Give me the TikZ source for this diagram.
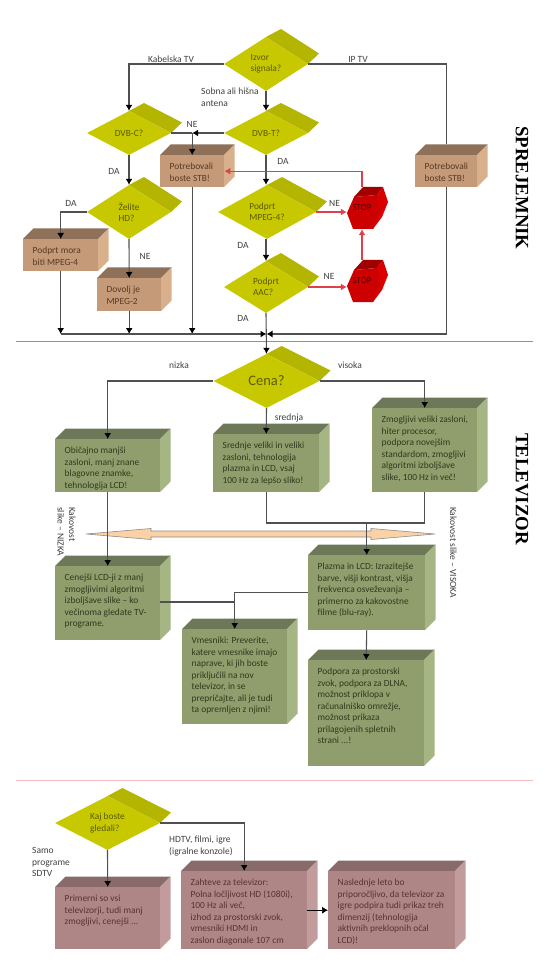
\documentclass[tikz,border=0pt]{standalone}
\usepackage{fontspec}
\setmainfont{Carlito}
\newfontfamily\titlefont{Liberation Serif}
\usetikzlibrary{calc,arrows.meta,positioning,shapes.geometric}
\definecolor{oliveF}{HTML}{C8C800}
\definecolor{oliveB}{HTML}{B3B500}
\definecolor{brownF}{HTML}{C49A78}
\definecolor{brownT}{HTML}{8F7058}
\definecolor{brownR}{HTML}{D8B08C}
\definecolor{greenF}{HTML}{8F9E6C}
\definecolor{greenT}{HTML}{6D7858}
\definecolor{greenR}{HTML}{A6B584}
\definecolor{mauveF}{HTML}{AE8686}
\definecolor{mauveT}{HTML}{886A6A}
\definecolor{mauveR}{HTML}{C29C9C}
\definecolor{redF}{HTML}{CC0000}
\definecolor{redT}{HTML}{A00000}
\definecolor{redR}{HTML}{DA0000}
\definecolor{wire}{HTML}{505050}
\definecolor{redwire}{HTML}{E0404A}
\definecolor{sepline}{HTML}{EE6A6A}
\definecolor{sand}{HTML}{FAD2A5}
\definecolor{inkgreen}{HTML}{2F3A1E}
\definecolor{inkbrown}{HTML}{5A3A22}
\definecolor{inkmauve}{HTML}{5A3232}
\definecolor{inkolive}{HTML}{5A5A00}
\tikzset{
  flow/.style={draw=wire,line width=1.1pt,-{Latex[length=6pt,width=7pt,black]}},
  plainflow/.style={draw=wire,line width=1.1pt},
  redflow/.style={draw=redwire,line width=1.1pt,-{Latex[length=6pt,width=7pt]}},
  lbl/.style={font=\fontsize{9.5}{11.5}\selectfont,text=black!75,inner sep=0pt,align=left},
  boxtext/.style={font=\fontsize{9.4}{11.5}\selectfont,inner sep=0pt,align=left,anchor=north west},
  decfront/.style={diamond,fill=oliveF,inner sep=0pt,text=inkolive,align=left,font=\fontsize{9.4}{11.5}\selectfont},
  toptitle/.style={font=\titlefont\bfseries\fontsize{18.8}{19}\selectfont,rotate=-90,inner sep=0pt},
}
% name, cx, cy, half width, half height, text
\newcommand{\decbox}[6]{
  \fill[oliveB] (#2,#3-#5) -- ++(15,-8) -- (#2+#4+11,#3-10.5) -- (#2+#4,#3) -- cycle;
  \pgfmathsetmacro{\decasp}{#4/#5}
  \node[decfront,aspect=\decasp,minimum width={2*#4*1pt},minimum height={2*#5*1pt}] (#1) at (#2,#3) {#6};
}
% name, colour, left, top, right, bottom, text
\newcommand{\cubebox}[7]{
  \fill[#2T] (#3,#4) -- ++(10.5,-10.5) -- (#5+10.5,#4-10.5) -- (#5,#4) -- cycle;
  \fill[#2R] (#5,#4) -- ++(10.5,-10.5) -- (#5+10.5,#6-10.5) -- (#5,#6) -- cycle;
  \node[fill=#2F,inner sep=0pt,anchor=north west,minimum width={(#5-#3)*1pt},minimum height={(#6-#4)*1pt}] (#1) at (#3,#4) {};
  \node[boxtext,text=ink#2] (#1t) at (#3+9.5,#4+8) {#7};
}
% name, cx, cy
\newcommand{\stopbox}[3]{
  \begin{scope}[shift={(#2,#3)}]
  \fill[redR] (15,-13) -- (21,-21) -- (26,-6) -- (20,9) -- (11,21) -- cycle;
  \fill[redF] (-15,5) -- (-8,-11) -- (15,-13) -- (18,4) -- (11,21) -- (-9,21) -- cycle;
  \fill[redT] (-8,-11) -- (1,-21) -- (21,-21) -- (15,-13) -- cycle;
  \end{scope}
  \node[inner sep=0pt,minimum width=30pt,minimum height=42pt,text=red!30!black,font=\fontsize{9}{10}\selectfont] (#1) at (#2,#3) {\raisebox{-4.5pt}{STOP}};
}

\begin{document}
\begin{tikzpicture}[x=1pt,y=-1pt]
\useasboundingbox (0,0) rectangle (545,973);
% separators and the long arrow
\draw[sepline,line width=.7pt] (16,341) -- (533,341);
\draw[sepline!45,line width=.7pt] (16,780) -- (533,780);
\draw[fill=sand,draw=black!45,line width=.6pt] (86,534) -- (151,528.5) -- (151,531) -- (371,531) -- (371,528.5) -- (435,534) -- (371,539.5) -- (371,537) -- (151,537) -- (151,539.5) -- cycle;

\decbox{izvor}{266}{64}{42}{27}{Izvor\\signala?}
\decbox{dvbc}{129}{133}{42}{22}{DVB-C?}
\decbox{dvbt}{266}{133}{42}{22}{DVB-T?}
\decbox{hd}{129}{212}{42}{27}{Želite\\HD?}
\decbox{mpegq}{267}{212}{49}{27}{Podprt\\MPEG-4?}
\decbox{aac}{266}{287}{42}{26}{Podprt\\AAC?}
\decbox{cena}{266.5}{381}{53}{27}{\fontsize{14.5}{16}\selectfont Cena?}
\decbox{kaj}{107.5}{823}{52.5}{27}{Kaj boste\\gledali?}

\cubebox{stbl}{brown}{160}{155}{224}{187}{Potrebovali\\boste STB!}
\cubebox{stbr}{brown}{415}{155}{477}{187}{Potrebovali\\boste STB!}
\cubebox{mora}{brown}{23}{239}{98}{271}{Podprt mora\\biti MPEG-4}
\cubebox{dovolj}{brown}{97}{278}{161}{311}{Dovolj je\\MPEG-2}

\cubebox{nizka}{green}{55}{439}{160}{492}{Običajno manjši\\zasloni, manj znane\\blagovne znamke,\\tehnologija LCD!}
\cubebox{srednja}{green}{213}{434}{319}{492}{Srednje veliki in veliki\\zasloni, tehnologija\\plazma in LCD, vsaj\\100 Hz za lepšo sliko!}
\cubebox{visoka}{green}{372}{408}{477}{492}{Zmogljivi veliki zasloni,\\hiter procesor,\\podpora novejšim\\standardom, zmogljivi\\algoritmi izboljšave\\slike, 100 Hz in več!}
\cubebox{cenejsi}{green}{55}{566}{160}{640}{Cenejši LCD-ji z manj\\zmogljivimi algoritmi\\izboljšave slike – ko\\večinoma gledate TV-\\programe.}
\cubebox{plazma}{green}{308}{555}{425}{630}{Plazma in LCD: Izrazitejše\\barve, višji kontrast, višja\\frekvenca osveževanja –\\primerno za kakovostne\\filme (blu-ray).}
\cubebox{vmesniki}{green}{182}{629}{287}{724}{Vmesniki: Preverite,\\katere vmesnike imajo\\naprave, ki jih boste\\priključili na nov\\televizor, in se\\prepričajte, ali je tudi\\ta opremljen z njimi!}
\cubebox{podpora}{green}{308}{660}{424}{766}{Podpora za prostorski\\zvok, podpora za DLNA,\\možnost priklopa v\\računalniško omrežje,\\možnost prikaza\\prilagojenih spletnih\\strani ...!}

\cubebox{primerni}{mauve}{55}{887}{160}{949}{Primerni so vsi\\televizorji, tudi manj\\zmogljivi, cenejši ...}
\cubebox{zahteve}{mauve}{181}{871}{307}{949}{Zahteve za televizor:\\Polna ločljivost HD (1080i),\\100 Hz ali več,\\izhod za prostorski zvok,\\vmesniki HDMI in\\zaslon diagonale 107 cm}
\cubebox{naslednje}{mauve}{328}{871}{455}{949}{Naslednje leto bo\\priporočljivo, da televizor za\\igre podpira tudi prikaz treh\\dimenzij (tehnologija\\aktivnih preklopnih očal\\LCD)!}

\stopbox{stopa}{362}{208}
\stopbox{stopb}{362}{281}

\coordinate (busj) at (cena.north |- 0,334);
\coordinate (jne) at (stbl.north |- dvbt.west);
\coordinate (iptop) at ([shift={(0,-10.5)}]stbr.north);
\coordinate (jplazma) at (plazma.north |- 0,523);
\coordinate (jcen) at (vmesniki.north |- 0,602);

\draw[flow] (izvor.west) -| (dvbc.north);
\draw[plainflow] (izvor.east) -| (iptop);
\draw[flow] (izvor.south) -- (dvbt.north);
\draw[flow] (dvbt.west) -- (jne);
\draw[plainflow] (dvbc.east) -- (jne);
\draw[flow] (jne) -- (stbl.north);
\draw[flow] (dvbc.south) -- (hd.north);
\draw[flow] (hd.west) -| (mora.north);
\draw[flow] (hd.south) -- (dovolj.north);
\draw[flow] (dvbt.south) -- (dvbt.south |- mpegq.north);
\draw[flow] (mpegq.south -| aac.north) -- (aac.north);
\draw[redflow] (mpegq.east) -- (stopa.west |- mpegq.east);
\draw[redflow] (aac.east) -- (stopb.west |- aac.east);
\draw[redflow] (stopb.north) -- (stopa.south);
\draw[redflow] (stopa.north) |- (stbl.east);

\draw[flow] (mora.south) -- (mora.south |- busj);
\draw[flow] (dovolj.south) -- (dovolj.south |- busj);
\draw[flow] (stbl.south) -- (stbl.south |- busj);
\draw[flow] (mora.south |- busj) -- (busj);
\draw[flow] (stbr.south) |- (busj);
\draw[flow] (aac.south) -- (cena.north);

\draw[flow] (cena.west) -| (nizka.north);
\draw[flow] (cena.south) -- (srednja.north);
\draw[flow] (cena.east) -| (visoka.north);
\draw[flow] (nizka.south) -- (cenejsi.north);
\draw[plainflow] (srednja.south) |- (jplazma);
\draw[plainflow] (visoka.south) |- (jplazma);
\draw[flow] (jplazma) -- (plazma.north);
\draw[flow] (plazma.west) -| (vmesniki.north);
\draw[plainflow] (cenejsi.east |- jcen) -- (jcen);
\draw[flow] (plazma.south) -- (podpora.north);

\draw[flow] (kaj.south) -- (primerni.north);
\draw[flow] (kaj.east) -| (zahteve.north);
\draw[draw=black,line width=.7pt,-{Latex[length=6pt,width=7pt]}] (zahteve.east) -- (naslednje.west);

\node[lbl] (lkabel) at (171,59) {Kabelska TV};
\node[lbl] (liptv) at (358,59) {IP TV};
\node[lbl,anchor=west] (lsobna) at (201,97) {Sobna ali hišna\\antena};
\node[lbl] (lne) at (192,124) {NE};
\node[lbl] (lda) at (283,161) {DA};
\node[lbl] (ldb) at (114,171) {DA};
\node[lbl] (ldc) at (71,203) {DA};
\node[lbl] (lnb) at (145,256) {NE};
\node[lbl] (lnc) at (334.5,203) {NE};
\node[lbl] (ldd) at (243,245) {DA};
\node[lbl] (lnd) at (329,276) {NE};
\node[lbl] (lde) at (243,318) {DA};
\node[lbl] (lnizka) at (179,365) {nizka};
\node[lbl] (lvisoka) at (350,365) {visoka};
\node[lbl] (lsrednja) at (289,418) {srednja};
\node[lbl,rotate=-90,anchor=north west] (lkakn) at (76,507) {Kakovost\\slike – NIZKA};
\node[lbl,rotate=-90,anchor=north west] (lkakv) at (457,507) {Kakovost slike – VISOKA};
\node[lbl,anchor=west] (lsamo) at (32,862) {Samo\\programe\\SDTV};
\node[lbl,anchor=west] (lhdtv) at (169,846) {HDTV, filmi, igre\\(igralne konzole)};

\node[toptitle] (tsprej) at (522,188) {SPREJEMNIK};
\node[toptitle] (ttelev) at (522,489) {TELEVIZOR};
\end{tikzpicture}
\end{document}
